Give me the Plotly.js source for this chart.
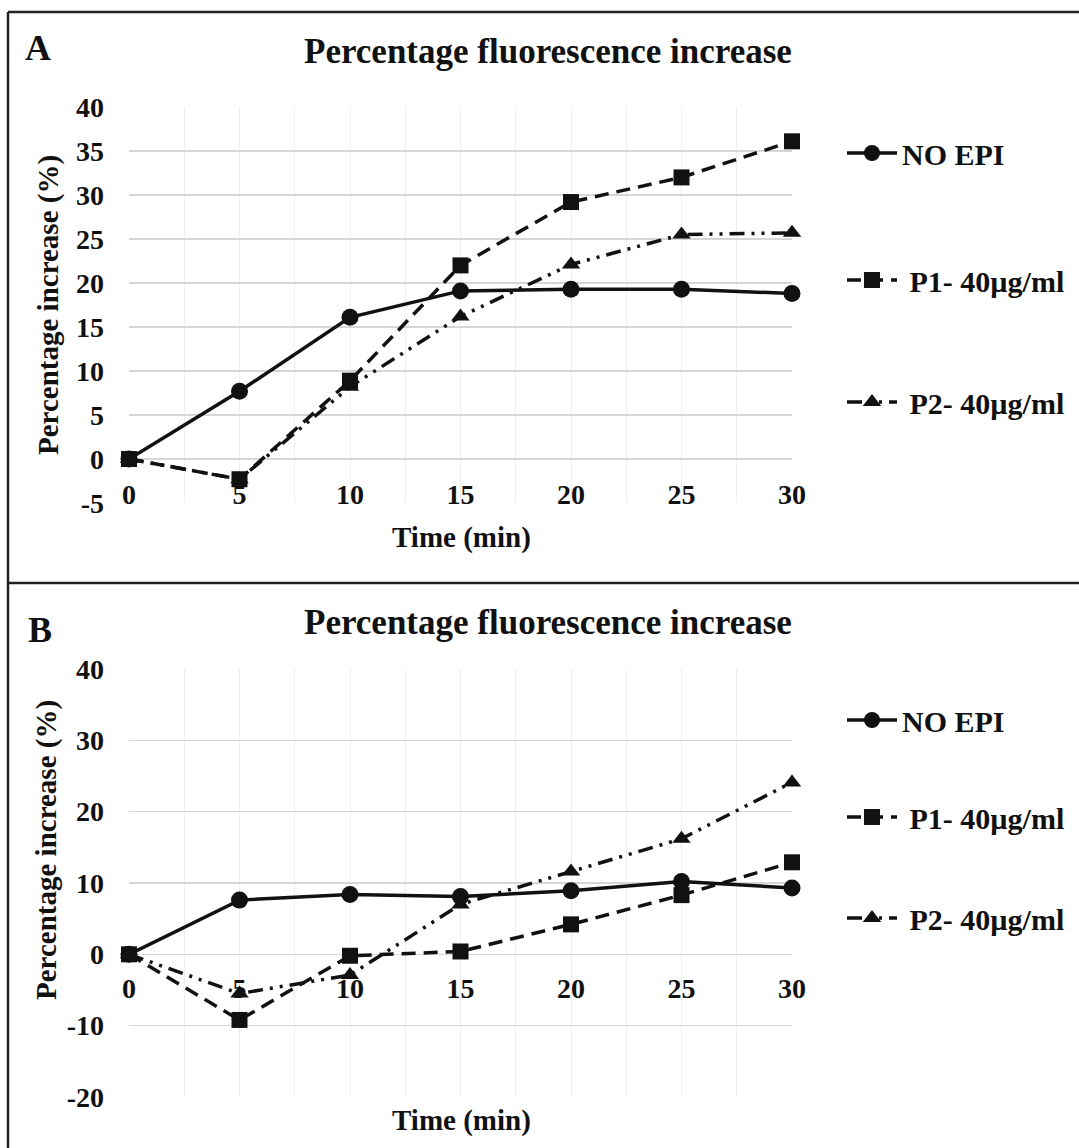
<!DOCTYPE html>
<html>
<head>
<meta charset="utf-8">
<script src="https://cdn.plot.ly/plotly-3.0.1.min.js"></script>
<style>
  html, body { margin: 0; padding: 0; background: #ffffff; }
  #chart { width: 1079px; height: 1148px; }
</style>
</head>
<body>
<div id="chart"></div>
<script>
// Sampling times (min)
const timeMin = [0, 5, 10, 15, 20, 25, 30];

// Panel A: percentage fluorescence increase (%)
const noEpiA = [0, 7.7, 16.1, 19.1, 19.3, 19.3, 18.8];
const p1A    = [0, -2.3, 8.9, 22.0, 29.2, 32.0, 36.1];
const p2A    = [0, -2.3, 8.2, 16.2, 22.1, 25.5, 25.7];

// Panel B: percentage fluorescence increase (%)
const noEpiB = [0, 7.6, 8.4, 8.1, 8.9, 10.2, 9.3];
const p1B    = [0, -9.2, -0.2, 0.4, 4.2, 8.3, 12.9];
const p2B    = [0, -5.5, -2.9, 7.0, 11.6, 16.2, 24.1];

// Legend labels and tick labels
const seriesNames = ['NO EPI', '\u00a0P1- 40\u00b5g/ml', '\u00a0P2- 40\u00b5g/ml'];
const xTickVals = [0, 5, 10, 15, 20, 25, 30];
const xTickText = ['0', '5', '10', '15', '20', '25', '30'];
const yTickValsA = [-5, 0, 5, 10, 15, 20, 25, 30, 35, 40];
const yTickTextA = ['-5', '0', '5', '10', '15', '20', '25', '30', '35', '40'];
const yTickValsB = [-20, -10, 0, 10, 20, 30, 40];
const yTickTextB = ['-20', '-10', '0', '10', '20', '30', '40'];
const panelTitle = 'Percentage fluorescence increase';
const yTitle = 'Percentage increase (%)';
const xTitle = 'Time (min)';

const W = 1079, H = 1148;
const px = v => v / W;            // horizontal pixel -> paper
const py = v => 1 - v / H;        // vertical pixel -> paper

const SERIF = 'Liberation Serif, Times New Roman, serif';
const INK = '#111111';

const styles = [
  { symbol: 'circle',        dash: 'solid',                      size: 17 },
  { symbol: 'square',        dash: '14px,8px',                   size: 16 },
  { symbol: 'triangle-up',   dash: '15px,7px,3px,7px,3px,7px',   size: 16 }
];

function trace(y, i, xa, ya, legendId) {
  const s = styles[i];
  return {
    x: timeMin, y: y, name: seriesNames[i],
    type: 'scatter', mode: 'lines+markers',
    xaxis: xa, yaxis: ya, legend: legendId,
    cliponaxis: false,
    line: { color: INK, width: 3.5, dash: s.dash },
    marker: { symbol: s.symbol, size: s.size, color: INK }
  };
}

const data = [
  trace(noEpiA, 0, 'x',  'y',  'legend'),
  trace(p1A,    1, 'x',  'y',  'legend2'),
  trace(p2A,    2, 'x',  'y',  'legend3'),
  trace(noEpiB, 0, 'x2', 'y2', 'legend4'),
  trace(p1B,    1, 'x2', 'y2', 'legend5'),
  trace(p2B,    2, 'x2', 'y2', 'legend6')
];

const tickFont = { family: SERIF, size: 28, color: INK, weight: 'bold' };

// Plot areas (pixels): x 0..30 spans 129..792
const xDomain = [px(129), px(792)];
const yDomainA = [py(503), py(107)];   // -5 .. 40
const yDomainB = [py(1097), py(669)];  // -20 .. 40

function xAxis(pos) {
  return {
    domain: xDomain, range: [0, 30], anchor: 'free', position: pos,
    tickvals: xTickVals, ticktext: xTickText,
    ticks: '', showline: false, zeroline: false,
    showgrid: true, gridcolor: '#eeeeee', gridwidth: 1,
    minor: { dtick: 2.5, tick0: 0, showgrid: true, gridcolor: '#eeeeee', gridwidth: 1 },
    tickfont: tickFont, ticklabelstandoff: 15, fixedrange: true
  };
}
function yAxis(domain, range, vals, text, anchor) {
  return {
    domain: domain, range: range, tickvals: vals, ticktext: text, anchor: anchor,
    ticks: '', showline: false, zeroline: false,
    showgrid: true, gridcolor: '#d6d6d6', gridwidth: 1.2,
    tickfont: tickFont, ticklabelstandoff: 24, fixedrange: true
  };
}

function legendAt(xPix, yPix) {
  return {
    x: px(xPix), y: py(yPix), xanchor: 'left', yanchor: 'middle',
    bgcolor: 'rgba(0,0,0,0)', borderwidth: 0, itemwidth: 50,
    font: { family: SERIF, size: 30, color: INK, weight: 'bold' },
    itemclick: false, itemdoubleclick: false
  };
}

const bold = (t, size, x, y, extra) => Object.assign({
  text: t, xref: 'paper', yref: 'paper', x: px(x), y: py(y),
  xanchor: 'center', yanchor: 'middle', showarrow: false,
  font: { family: SERIF, size: size, color: INK, weight: 'bold' }
}, extra || {});

const annotations = [
  bold('A', 36, 38, 48),
  bold('B', 36, 40, 630),
  bold(panelTitle, 35, 548, 52),
  bold(panelTitle, 35, 548, 622),
  bold(yTitle, 29, 48, 305, { textangle: -90 }),
  bold(yTitle, 29, 46, 850, { textangle: -90 }),
  bold(xTitle, 29, 461, 537),
  bold(xTitle, 29, 461, 1120)
];

const frame = { color: '#222222', width: 2.5 };
const shapes = [
  { type: 'line', xref: 'paper', yref: 'paper', x0: px(8), x1: 1.01, y0: py(12), y1: py(12), line: frame },
  { type: 'line', xref: 'paper', yref: 'paper', x0: px(8), x1: px(8), y0: py(12), y1: -0.01, line: frame },
  { type: 'line', xref: 'paper', yref: 'paper', x0: px(8), x1: 1.01, y0: py(583), y1: py(583), line: frame }
];

const layout = {
  width: W, height: H,
  margin: { l: 0, r: 0, t: 0, b: 0, pad: 0 },
  paper_bgcolor: '#ffffff', plot_bgcolor: '#ffffff',
  xaxis: xAxis(py(460)),
  yaxis: yAxis(yDomainA, [-5, 40], yTickValsA, yTickTextA, 'x'),
  xaxis2: xAxis(py(954)),
  yaxis2: yAxis(yDomainB, [-20, 40], yTickValsB, yTickTextB, 'x2'),
  showlegend: true,
  legend:  legendAt(842, 153),
  legend2: legendAt(842, 280),
  legend3: legendAt(842, 402),
  legend4: legendAt(842, 720),
  legend5: legendAt(842, 817),
  legend6: legendAt(842, 918),
  annotations: annotations,
  shapes: shapes
};

Plotly.newPlot('chart', data, layout, { displayModeBar: false, staticPlot: true });
</script>
</body>
</html>
